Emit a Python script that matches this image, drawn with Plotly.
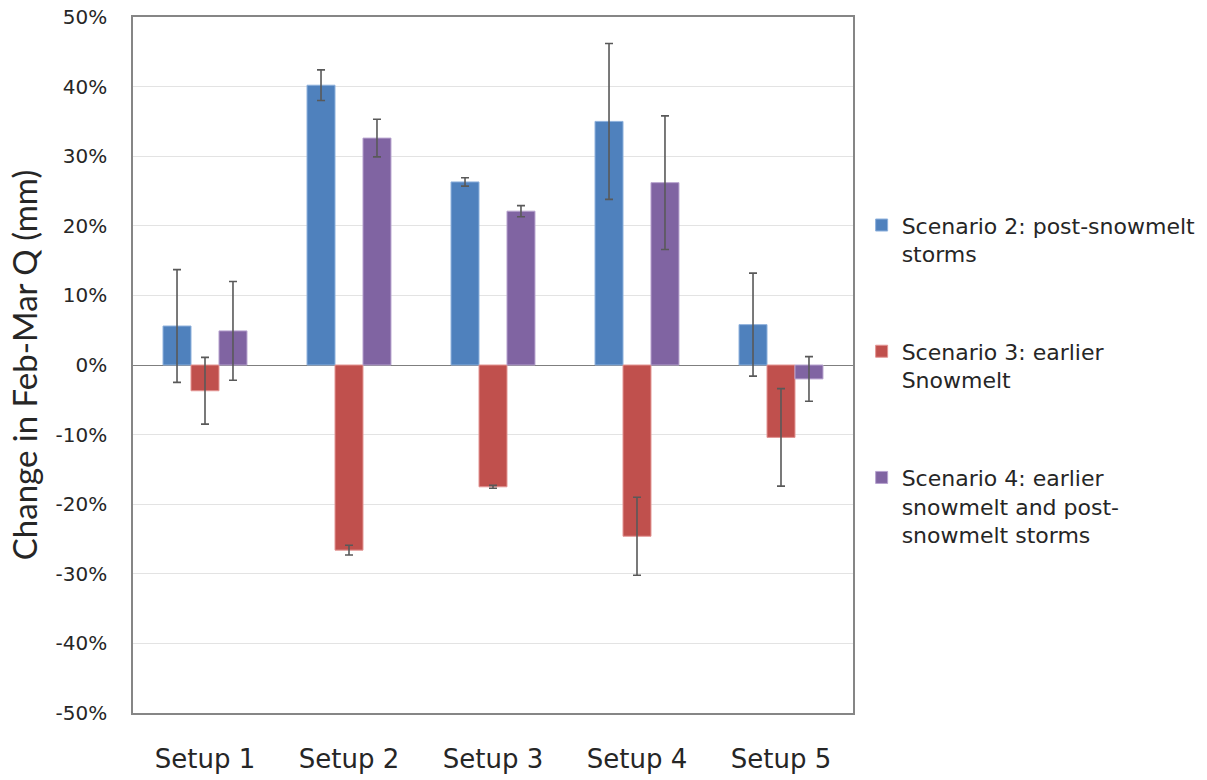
import plotly.graph_objects as go

# Categories and series values (percent change in Feb-Mar Q)
setups = ["Setup 1", "Setup 2", "Setup 3", "Setup 4", "Setup 5"]

scenario2 = [5.6, 40.2, 26.3, 35.0, 5.8]
scenario2_err = [8.1, 2.2, 0.6, 11.2, 7.4]

scenario3 = [-3.7, -26.6, -17.5, -24.6, -10.4]
scenario3_err = [4.8, 0.7, 0.2, 5.6, 7.0]

scenario4 = [4.9, 32.6, 22.1, 26.2, -2.0]
scenario4_err = [7.1, 2.7, 0.8, 9.6, 3.2]

tick_values = [50, 40, 30, 20, 10, 0, -10, -20, -30, -40, -50]
tick_labels = ["50%", "40%", "30%", "20%", "10%", "0%",
               "-10%", "-20%", "-30%", "-40%", "-50%"]

series = [
    ("Scenario 2: post-snowmelt<br>storms", scenario2, scenario2_err, "#4F81BD", "#8DB0DC"),
    ("Scenario 3: earlier<br>Snowmelt", scenario3, scenario3_err, "#C0504D", "#E39593"),
    ("Scenario 4: earlier<br>snowmelt and post-<br>snowmelt storms", scenario4, scenario4_err, "#8064A2", "#B7A3CF"),
]

fig = go.Figure()
for i, (name, vals, errs, color, edge) in enumerate(series):
    fig.add_trace(go.Bar(
        x=setups, y=vals, name=name, legendgroup=f"g{i}",
        marker=dict(color=color, line=dict(color=edge, width=1)),
        error_y=dict(type="data", array=errs, visible=True,
                     color="#595959", thickness=1.6, width=4),
    ))

fig.update_layout(
    width=1207, height=780,
    margin=dict(l=133, r=354, t=17, b=67, autoexpand=False),
    paper_bgcolor="white", plot_bgcolor="white",
    barmode="group", bargap=0.417, bargroupgap=0,
    font=dict(family="DejaVu Sans", color="#262626"),
    legend=dict(
        x=1.012, y=0.731, xanchor="left", yanchor="top",
        font=dict(family="DejaVu Sans", size=22, color="#262626"),
        traceorder="grouped", tracegroupgap=66, valign="top",
        bgcolor="rgba(0,0,0,0)",
    ),
    xaxis=dict(
        automargin=False,
        showline=True, mirror=True, linecolor="#868686", linewidth=1.5,
        showgrid=False, ticks="",
        tickfont=dict(family="DejaVu Sans", size=26, color="#262626"),
        ticklabelstandoff=22,
    ),
    yaxis=dict(
        automargin=False,
        range=[-50, 50], tickvals=tick_values, ticktext=tick_labels,
        showline=True, mirror=True, linecolor="#868686", linewidth=1.5,
        showgrid=True, gridcolor="#E3E3E3", gridwidth=1,
        zeroline=True, zerolinecolor="#7F7F7F", zerolinewidth=1.2,
        ticks="", ticklabelstandoff=20,
        tickfont=dict(family="DejaVu Sans", size=20, color="#262626"),
        title=dict(text="Change in Feb-Mar Q (mm)",
                   font=dict(family="Lato", size=33, color="#262626"),
                   standoff=8),
    ),
)

fig.write_html("out.html")
